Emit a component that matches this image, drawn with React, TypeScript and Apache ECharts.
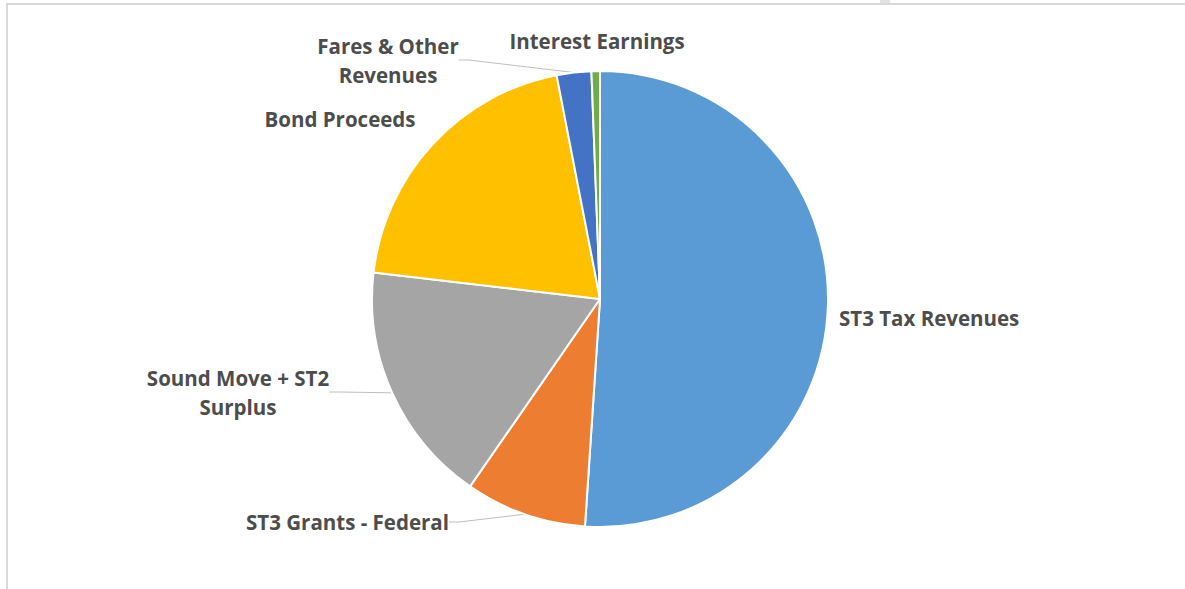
import React, { useEffect, useRef } from "react";
import * as echarts from "echarts";

const categories = [
  "ST3 Tax Revenues",
  "ST3 Grants - Federal",
  "Sound Move + ST2\nSurplus",
  "Bond Proceeds",
  "Fares & Other\nRevenues",
  "Interest Earnings",
];
const values = [51.05, 8.6, 17.2, 20.1, 2.45, 0.6];
const colors = ["#5B9BD5", "#ED7D31", "#A5A5A5", "#FFC000", "#4472C4", "#70AD47"];
const showLeader = [false, true, true, false, true, false];

// label placement (Excel-like manual layout)
const labelPos: { x: number; y: number; align: string }[] = [
  { x: 839, y: 318, align: "left" },
  { x: 449, y: 522, align: "right" },
  { x: 238, y: 392, align: "center" },
  { x: 340, y: 119, align: "center" },
  { x: 388, y: 60, align: "center" },
  { x: 597, y: 41, align: "center" },
];

export default function App() {
  const ref = useRef<HTMLDivElement>(null);
  useEffect(() => {
    if (!ref.current) return;
    const chart = echarts.init(ref.current, undefined, { renderer: "svg" });
    chart.setOption({
      animation: false,
      backgroundColor: "#ffffff",
      graphic: [
        { type: "rect", shape: { x: 7, y: 3, width: 1200, height: 2 }, style: { fill: "#d9d9d9" } },
        { type: "rect", shape: { x: 6, y: 3, width: 2, height: 600 }, style: { fill: "#d9d9d9" } },
        { type: "rect", shape: { x: 880, y: 0, width: 10, height: 3 }, style: { fill: "#e3e3e3" } },
      ],
      series: [
        {
          type: "pie",
          center: [600, 299],
          radius: 228,
          startAngle: 90,
          clockwise: true,
          avoidLabelOverlap: false,
          itemStyle: { borderColor: "#ffffff", borderWidth: 2 },
          label: {
            show: true,
            position: "outside",
            formatter: "{b}",
            color: "#4d4d4d",
            fontFamily: "Open Sans",
            fontWeight: "bold",
            fontSize: 20.5,
            lineHeight: 29,
          },
          labelLine: {
            show: true,
            length: 10,
            length2: 10,
            lineStyle: { color: "#bfbfbf", width: 1 },
          },
          labelLayout: (params: any) => {
            const p = labelPos[params.dataIndex];
            return { x: p.x, y: p.y, align: p.align, verticalAlign: "middle" };
          },
          data: categories.map((name, i) => ({
            name,
            value: values[i],
            itemStyle: { color: colors[i] },
            labelLine: { show: showLeader[i] },
          })),
        },
      ],
    });
    return () => chart.dispose();
  }, []);
  return (
    <div
      ref={ref}
      style={{ position: "fixed", left: 0, top: 0, width: 1185, height: 589 }}
    />
  );
}
